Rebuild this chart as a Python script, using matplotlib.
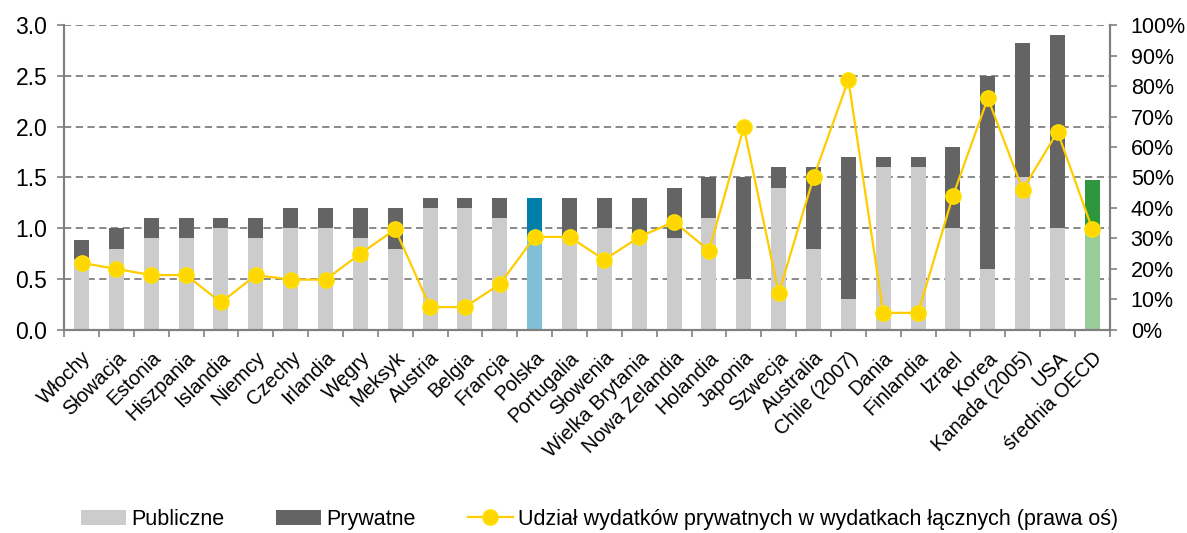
import numpy as np
import matplotlib
matplotlib.use("Agg")
from matplotlib import pyplot as plt
from matplotlib.ticker import FuncFormatter, MultipleLocator

plt.rcParams['font.family'] = ['Liberation Sans', 'DejaVu Sans']

# dane
kraje = ["Włochy", "Słowacja", "Estonia", "Hiszpania", "Islandia", "Niemcy", "Czechy",
         "Irlandia", "Węgry", "Meksyk", "Austria", "Belgia", "Francja", "Polska",
         "Portugalia", "Słowenia", "Wielka Brytania", "Nowa Zelandia", "Holandia",
         "Japonia", "Szwecja", "Australia", "Chile (2007)", "Dania", "Finlandia",
         "Izrael", "Korea", "Kanada (2005)", "USA", "średnia OECD"]
publiczne = [0.7, 0.8, 0.9, 0.9, 1.0, 0.9, 1.0, 1.0, 0.9, 0.8, 1.2, 1.2, 1.1, 0.9,
             0.9, 1.0, 0.9, 0.9, 1.1, 0.5, 1.4, 0.8, 0.3, 1.6, 1.6, 1.0, 0.6, 1.5,
             1.0, 1.0]
prywatne = [0.18, 0.2, 0.2, 0.2, 0.1, 0.2, 0.2, 0.2, 0.3, 0.4, 0.1, 0.1, 0.2, 0.4,
            0.4, 0.3, 0.4, 0.5, 0.4, 1.0, 0.2, 0.8, 1.4, 0.1, 0.1, 0.8, 1.9, 1.32,
            1.9, 0.48]
udzial = [22, 20, 18, 18, 9, 18, 16.5, 16.5, 25, 33, 7.5, 7.5, 15, 30.5, 30.5, 23,
          30.5, 35.5, 26, 66.5, 12, 50, 82, 5.6, 5.6, 44, 76, 46, 65, 33]

kol_pub = ["#CCCCCC"] * len(kraje)
kol_pryw = ["#646464"] * len(kraje)
kol_pub[kraje.index("Polska")] = "#7FBFD8"
kol_pryw[kraje.index("Polska")] = "#007FAA"
kol_pub[-1] = "#99CC99"
kol_pryw[-1] = "#2E963C"

x = np.arange(len(kraje))
szer = 0.43

fig = plt.figure(figsize=(11.87, 5.33), dpi=100)
ax = fig.add_axes([0.054, 0.381, 0.881, 0.572])
ax2 = ax.twinx()

ax.bar(x, publiczne, szer, color=kol_pub, label="Publiczne", zorder=2)
ax.bar(x, prywatne, szer, bottom=publiczne, color=kol_pryw, label="Prywatne", zorder=2)

ax2.plot(x, udzial, color="#FFCC00", lw=1.6, marker="o", markersize=11,
         markerfacecolor="#FFD700", markeredgecolor="#FFE200", markeredgewidth=1,
         label="Udział wydatków prywatnych w wydatkach łącznych (prawa oś)")

ax.set_xlim(-0.5, len(kraje) - 0.5)
ax.set_ylim(0, 3.0)
ax2.set_ylim(0, 100)
ax.yaxis.set_major_locator(MultipleLocator(0.5))
ax.yaxis.set_major_formatter(FuncFormatter(lambda v, p: f"{v:.1f}"))
ax2.yaxis.set_major_locator(MultipleLocator(10))
ax2.yaxis.set_major_formatter(FuncFormatter(lambda v, p: f"{v:.0f}%"))

for g in np.arange(0.5, 3.01, 0.5):
    ax.axhline(g, color="#808080", lw=1.3, ls=(0, (4, 2.5)), zorder=1)

ax.set_xticks(x)
ax.set_xticklabels(kraje, rotation=45, ha="right", rotation_mode="anchor", fontsize=14.5)
ax.set_xticks(np.arange(-0.5, len(kraje)), minor=True)
ax.tick_params(axis="x", which="major", length=0, pad=13)
ax.tick_params(axis="x", which="minor", length=5, color="#808080", width=1.2)
ax.tick_params(axis="y", length=5, color="#808080", width=1.2, labelsize=16.5, pad=7)
ax2.tick_params(axis="y", length=5, color="#808080", width=1.2, labelsize=15.5, pad=10)

for a in (ax, ax2):
    a.spines["top"].set_visible(False)
    for s in ("left", "right", "bottom"):
        a.spines[s].set_color("#808080")
        a.spines[s].set_linewidth(1.5)

h1, l1 = ax.get_legend_handles_labels()
h2, l2 = ax2.get_legend_handles_labels()
fig.legend(h1 + h2, l1 + l2, loc="lower center", bbox_to_anchor=(0.505, -0.03), ncol=3,
           frameon=False, fontsize=15.5, handlelength=2.1, columnspacing=2.4,
           handletextpad=0.25)

fig.savefig("out.png", dpi=100)
